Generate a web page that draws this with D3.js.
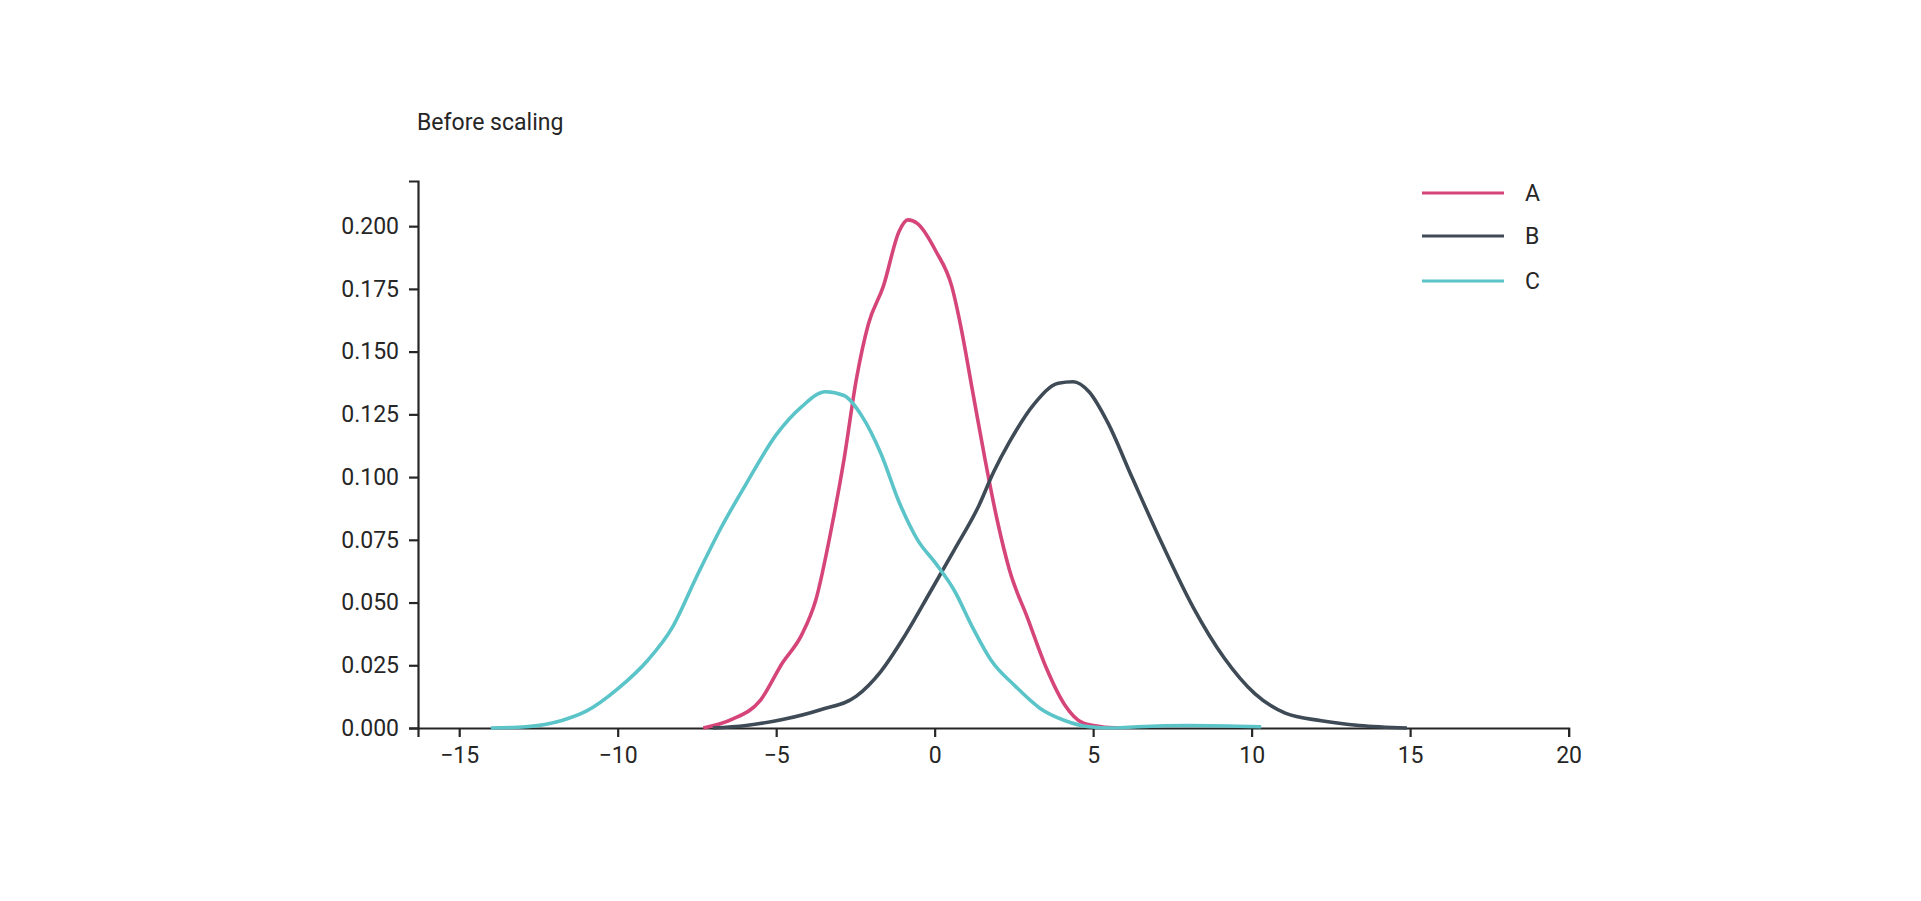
<!DOCTYPE html><html><head><meta charset="utf-8">
<script src="https://cdn.jsdelivr.net/npm/d3@7"></script>
<style>body{margin:0;background:#fff}text{font-family:Roboto,sans-serif}</style></head><body>
<svg id="c" width="1921" height="901"></svg>
<script>
const xTicks=[-15,-10,-5,0,5,10,15,20];
const yTicks=[0,0.025,0.05,0.075,0.1,0.125,0.15,0.175,0.2];
const seriesNames=["A","B","C"];
const colors=["#d6457a","#3e4a55","#5bc4c8"];
const A=[[-7.3,0],[-6.4,0.0034],[-5.5,0.011],[-4.8,0.026],[-4.2,0.037],[-3.75,0.051],[-3.25,0.080],[-2.86,0.107],[-2.47,0.139],[-2.09,0.161],[-1.62,0.176],[-1.12,0.198],[-0.85,0.2025],[-0.54,0.201],[0.04,0.190],[0.54,0.176],[0.81,0.161],[1.2,0.134],[1.59,0.107],[1.97,0.083],[2.36,0.063],[2.94,0.0435],[3.52,0.024],[4.1,0.0093],[4.68,0.002],[5.26,0.0005],[5.84,0]];
const B=[[-7,0],[-5.95,0.001],[-4.8,0.0034],[-3.6,0.0073],[-2.47,0.0127],[-1.7,0.0225],[-0.93,0.037],[-0.15,0.054],[0.62,0.071],[1.39,0.0885],[1.86,0.102],[2.36,0.114],[3.13,0.129],[3.9,0.1374],[4.37,0.138],[4.87,0.134],[5.45,0.122],[6.23,0.0998],[7.19,0.073],[8.16,0.048],[9.13,0.028],[10.1,0.0137],[11.06,0.0059],[12.2,0.0029],[13.4,0.001],[14.9,0]];
const C=[[-14,0],[-12.9,0.0005],[-11.76,0.003],[-10.98,0.0068],[-10.0,0.0156],[-9.05,0.027],[-8.28,0.040],[-7.5,0.0606],[-6.73,0.080],[-5.96,0.097],[-4.99,0.117],[-4.2,0.128],[-3.44,0.134],[-2.86,0.1325],[-2.28,0.124],[-1.7,0.1095],[-1.12,0.090],[-0.54,0.075],[0.04,0.0655],[0.62,0.0548],[1.2,0.040],[1.78,0.027],[2.55,0.0166],[3.33,0.0078],[4.1,0.003],[4.87,0.0005],[5.65,0],[6.4,0.0005],[8,0.001],[10.3,0.0005]];
const data=[A,B,C];
const svg=d3.select("#c");
const x=d3.scaleLinear().domain([-16.3,20]).range([418,1568.6]);
const y=d3.scaleLinear().domain([0,0.218]).range([728,181]);
const fs=23;
const gx=svg.append("g").attr("transform","translate(0,728)").call(d3.axisBottom(x).tickValues(xTicks).tickSize(9).tickPadding(10).tickFormat(d=>d<0?"\u2212"+(-d):d));
const gy=svg.append("g").attr("transform","translate(418,0)").call(d3.axisLeft(y).tickValues(yTicks).tickSize(9).tickPadding(10).tickFormat(d3.format(".3f")));
[gx,gy].forEach(g=>{g.selectAll("path,line").attr("stroke","#262626").attr("stroke-width",2.2);g.selectAll("text").attr("font-size",fs).attr("fill","#262626").attr("font-family","Roboto");});
const line=d3.line().x(d=>x(d[0])).y(d=>y(d[1])).curve(d3.curveMonotoneX);
data.forEach((s,i)=>svg.append("path").attr("d",line(s)).attr("fill","none").attr("stroke",colors[i]).attr("stroke-width",3.6));
svg.append("text").attr("x",417).attr("y",130).attr("font-size",fs).attr("fill","#262626").text("Before scaling");
const ly=[193,236,281];
seriesNames.forEach((n,i)=>{svg.append("line").attr("x1",1422).attr("x2",1504).attr("y1",ly[i]).attr("y2",ly[i]).attr("stroke",colors[i]).attr("stroke-width",3);
svg.append("text").attr("x",1525).attr("y",ly[i]+8).attr("font-size",fs).attr("fill","#262626").text(n);});
</script></body></html>
